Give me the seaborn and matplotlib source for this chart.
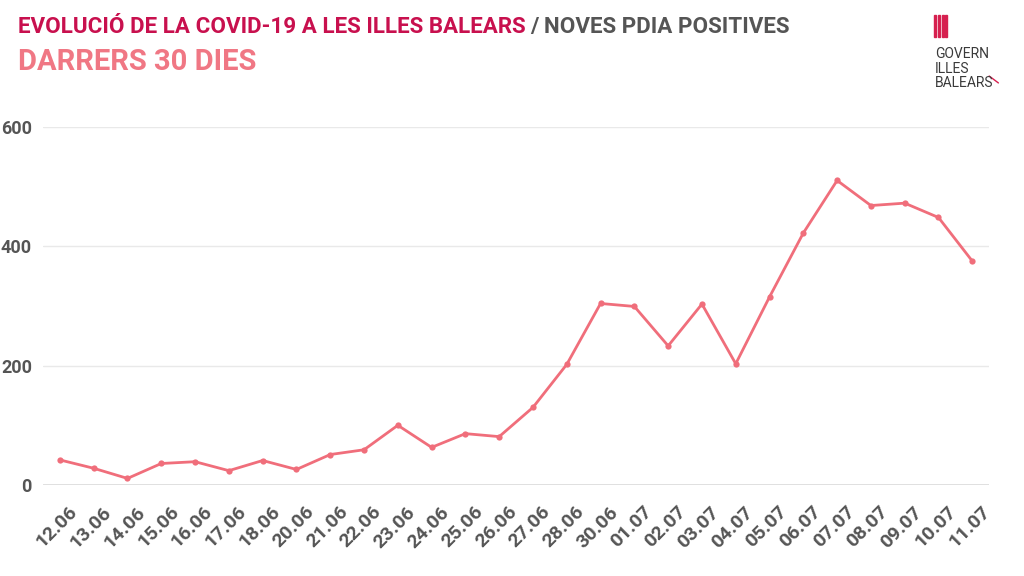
import matplotlib
matplotlib.use("Agg")
import matplotlib.pyplot as plt
import matplotlib.patches as mpatches
import matplotlib.transforms as mtransforms
import seaborn as sns
import pandas as pd

# Daily new positive PDIA tests, last 30 days
dates = ["12.06", "13.06", "14.06", "15.06", "16.06", "17.06", "18.06", "20.06",
         "21.06", "22.06", "23.06", "24.06", "25.06", "26.06", "27.06", "28.06",
         "30.06", "01.07", "02.07", "03.07", "04.07", "05.07", "06.07", "07.07",
         "08.07", "09.07", "10.07", "11.07"]
positives = [42, 28, 11, 36, 39, 24, 41, 26, 51, 59, 100, 63, 86, 81, 130, 202,
             304, 299, 233, 303, 203, 315, 422, 510, 468, 472, 448, 375]
y_ticks = [0, 200, 400, 600]

df = pd.DataFrame({"date": dates, "positives": positives})

sns.set_style("white")
plt.rcParams["font.family"] = ["Roboto", "DejaVu Sans"]

line_col = "#f06e7b"
gray = "#555555"

fig = plt.figure(figsize=(10.24, 5.76), dpi=100)
ax = fig.add_axes([0.042, 0.158, 0.924, 0.622])

sns.lineplot(data=df, x="date", y="positives", ax=ax, color=line_col,
             linewidth=2, marker="o", markersize=4.5, markeredgewidth=0, sort=False)

ax.set_xlim(-0.5, len(dates) - 0.5)
ax.set_ylim(0, 600)
ax.set_yticks(y_ticks)
ax.yaxis.grid(True, color="#e9e9e9", linewidth=1)
ax.set_axisbelow(True)
ax.axhline(0, color="#dddddd", linewidth=2, zorder=1)
for s in ax.spines.values():
    s.set_visible(False)
ax.set_xlabel("")
ax.set_ylabel("")
ax.tick_params(axis="both", length=0, colors=gray)
ax.tick_params(axis="y", pad=8, labelsize=13)
ax.tick_params(axis="x", pad=13, labelsize=14)
for lab in ax.get_yticklabels():
    lab.set_fontweight("bold")
shift = mtransforms.ScaledTranslation(6 / 72, 0, fig.dpi_scale_trans)
for lab in ax.get_xticklabels():
    lab.set_fontweight("bold")
    lab.set_rotation(45)
    lab.set_ha("right")
    lab.set_rotation_mode("anchor")
    lab.set_transform(lab.get_transform() + shift)

# title
t1 = fig.text(0.018, 0.943, "EVOLUCIÓ DE LA COVID-19 A LES ILLES BALEARS",
              color="#c8104e", fontsize=16.1, fontweight="bold", va="baseline")
fig.canvas.draw()
bb = t1.get_window_extent()
fig.text(bb.x1 / fig.bbox.width + 0.004, 0.943, "/ NOVES PDIA POSITIVES",
         color=gray, fontsize=16.1, fontweight="bold", va="baseline")
fig.text(0.018, 0.879, "DARRERS 30 DIES", color="#f07784", fontsize=21,
         fontweight="bold", va="baseline")

# logo
logo_red = "#d6204f"
for i in range(4):
    fig.patches.append(mpatches.Rectangle((0.9125 + i * 0.0035, 0.936), 0.002, 0.038,
                                          transform=fig.transFigure, color=logo_red))
fig.text(0.913, 0.918, "GOVERN\nILLES\nBALEARS", color="#3a3a3a", fontsize=10,
         va="top", ha="left", linespacing=1.05, family=["Roboto", "DejaVu Sans"])
fig.lines.append(plt.Line2D([0.966, 0.975], [0.868, 0.856], transform=fig.transFigure,
                            color=logo_red, linewidth=1))

fig.savefig("out.png", dpi=100)
